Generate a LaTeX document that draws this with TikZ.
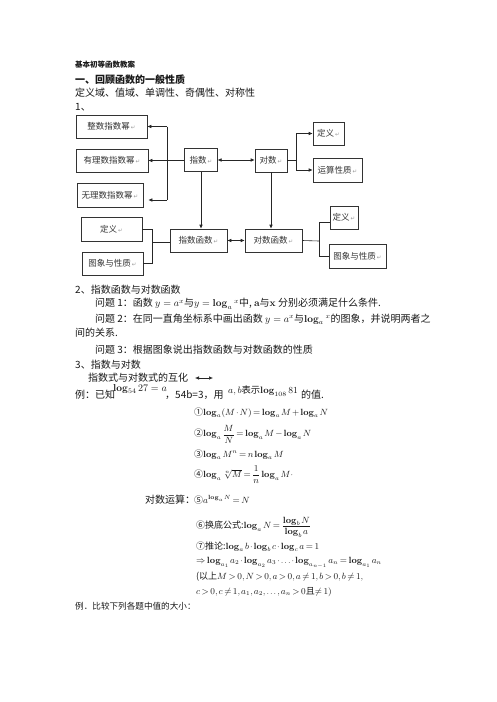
\RequirePackage{fix-cm}
\documentclass[tikz,border=0pt]{standalone}
\usepackage{amsmath}
\usepackage[no-math]{fontspec}
\setmainfont{Noto Sans CJK SC}
\newfontfamily\symf{DejaVu Sans}
\usetikzlibrary{arrows.meta}
\newcommand{\rt}{{\symf\color{black!40}\fontsize{5.5}{6}\selectfont\,↵}}
\newcommand{\Lg}{\mathop{\mathbf{log}}\nolimits}
\newcommand{\tightmu}{\thinmuskip=2mu\relax\medmuskip=2mu\relax\thickmuskip=3mu\relax}
\begin{document}
\begin{tikzpicture}[x=1pt,y=-1pt,
 box/.style={draw=black!80,line width=0.6pt,inner sep=1pt,font=\fontsize{8.5}{10}\selectfont,text=black!80},
 txt/.style={anchor=west,inner sep=0pt,font=\fontsize{10}{12}\selectfont,text=black!90},
 mth/.style={anchor=west,inner sep=0pt,font=\fontsize{9}{11}\selectfont,execute at begin node=\tightmu,text=black!90},
 ln/.style={draw=black!85,line width=0.6pt},
 arr/.style={ln,-{Latex[length=4pt,width=3.5pt]}},
 darr/.style={ln,{Latex[length=4pt,width=3.5pt]}-{Latex[length=4pt,width=3.5pt]}}]
\fill[white] (0,0) rectangle (496,702);
\useasboundingbox (0,0) rectangle (496,702);

% header text
\node[txt,font=\bfseries\fontsize{7.5}{9}\selectfont] (t1) at (75,65) {基本初等函数教案};
\node[txt,font=\bfseries\fontsize{10}{12}\selectfont] (t2) at (75,80) {一、回顾函数的一般性质};
\node[txt] (t3) at (75,93) {定义域、值域、单调性、奇偶性、对称性};
\node[txt] (t4) at (75,107) {1、};

% diagram boxes
\node[box,minimum width=71,minimum height=23] (zs) at (111.5,126.5) {整数指数幂\rt};
\node[box,minimum width=72,minimum height=23] (yl) at (112,160.5) {有理数指数幂\rt};
\node[box,minimum width=66,minimum height=24] (wl) at (110,195) {无理数指数幂\rt};
\node[box,minimum width=32.5,minimum height=23.5] (zx) at (201,160) {指数\rt};
\node[box,minimum width=32,minimum height=23] (dx) at (271,160.5) {对数\rt};
\node[box,minimum width=31,minimum height=23] (dy1) at (328.5,133.5) {定义\rt};
\node[box,minimum width=49,minimum height=24] (ys) at (337.5,170) {运算性质\rt};
\node[box,minimum width=57,minimum height=23] (zhs) at (198.5,240.5) {指数函数\rt};
\node[box,minimum width=57,minimum height=23] (dhs) at (273.5,240.5) {对数函数\rt};
\node[box,minimum width=61,minimum height=24] (dy2) at (111.5,229) {定义\rt};
\node[box,minimum width=61,minimum height=23] (tx1) at (112.5,263.5) {图象与性质\rt};
\node[box,minimum width=28,minimum height=23] (dy3) at (344,217.5) {定义\rt};
\node[box,minimum width=57,minimum height=24] (tx2) at (357.5,256) {图象与性质\rt};

% connectors
\coordinate (vt) at (167,126.5);
\coordinate (vb) at (167,200);
\coordinate (wlt) at ([xshift=5pt,yshift=-5pt]wl.east);
\draw[ln] (vt) -- (vb);
\draw[ln] (zx.west) -- (zx.west -| vt);
\draw[arr] (vt) -- (zs.east);
\draw[arr] (vt |- yl.east) -- (yl.east);
\draw[arr] (vb) -- (wlt);
\draw[darr] (zx.east) -- (zx.east -| dx.west);
\coordinate (rj) at (296,160.5);
\draw[ln] (dx.east) -- (rj);
\draw[ln] (rj |- dy1.west) -- (rj |- ys.west);
\draw[arr] (rj |- dy1.west) -- (dy1.west);
\draw[arr] (rj |- ys.west) -- (ys.west);
\draw[arr] (zx.south) -- (zx.south |- zhs.north);
\draw[arr] (dx.south) -- (dx.south |- dhs.north);
\draw[darr] (zhs.east) -- (dhs.west);
\coordinate (lj) at (152,242);
\draw[ln] (dy2.east) -- (dy2.east -| lj) -- (tx1.east -| lj) -- (tx1.east);
\draw[ln] (lj) -- (lj -| zhs.west);
\coordinate (rj2) at (319,241);
\coordinate (dy3w) at ([yshift=-4.5pt]dy3.west);
\draw[ln] (dhs.east) -- (rj2);
\draw[ln] (dy3w) -- (dy3w -| rj2) -- (rj2 |- tx2.west) -- (tx2.west);

% section 2
\node[txt] (t5) at (75,290) {2、指数函数与对数函数};
\node[txt] (t6) at (95,304) {问题 1：函数 $y=a^x$与$y=\Lg_a{}^x$中, $\mathbf{a}$与$\mathbf{x}$ 分别必须满足什么条件.};
\node[txt] (t7) at (95,319) {问题 2：在同一直角坐标系中画出函数 $y=a^x$与$\Lg_a{}^x$的图象，并说明两者之};
\node[txt] (t8) at (75,333) {间的关系.};
\node[txt] (t9) at (95,350) {问题 3：根据图象说出指数函数与对数函数的性质};
\node[txt] (t10) at (75,365) {3、指数与对数};
\node[txt] (t11) at (88,378) {指数式与对数式的互化};
\coordinate (h1) at (195,378);
\coordinate (h2) at (213,378);
\draw[darr] (h1) -- (h2);
\node[txt] (t12a) at (75,395) {例：已知};
\node[txt] (t12b) at (113,389) {$\Lg_{54}27=a$};
\node[txt] (t12c) at (165,395) {，54b=3，用};
\node[txt,font=\fontsize{9.3}{11}\selectfont] (t12d) at (228,391) {$a,b$表示$\Lg_{108}81$};
\node[txt] (t12e) at (301,395) {的值.};

% log rules
\node[mth] (f1) at (194,413) {①$\Lg_a(M\cdot N)=\Lg_a M+\Lg_a N$};
\node[mth] (f2) at (194,434) {②$\Lg_a\dfrac{M}{N}=\Lg_a M-\Lg_a N$};
\node[mth] (f3) at (194,455) {③$\Lg_a M^n=n\Lg_a M$};
\node[mth] (f4) at (194,475) {④$\Lg_a\sqrt[n]{M}=\dfrac{1}{n}\Lg_a M\cdot$};
\node[txt] (dsys) at (145,500) {对数运算：};
\node[mth] (f5) at (194,500) {⑤$a^{\Lg_a N}=N$};
\node[mth] (f6) at (196,527) {⑥换底公式:$\Lg_a N=\dfrac{\Lg_b N}{\Lg_b a}$};
\node[mth] (f7) at (196,547) {⑦推论:$\Lg_a b\cdot\Lg_b c\cdot\Lg_c a=1$};
\node[mth] (f8) at (196,563) {$\Rightarrow\Lg_{a_1}a_2\cdot\Lg_{a_2}a_3\cdot\ldots\cdot\Lg_{a_{n-1}}a_n=\Lg_{a_1}a_n$};
\node[mth] (f9) at (196,577) {(以上$M>0,N>0,a>0,a\neq1,b>0,b\neq1,$};
\node[mth] (f10) at (196,592) {$c>0,c\neq1,a_1,a_2,\ldots,a_n>0$且$\neq1)$};
\node[txt,font=\fontsize{8.6}{10}\selectfont] (t13) at (75,606) {例．比较下列各题中值的大小：};
\end{tikzpicture}
\end{document}
